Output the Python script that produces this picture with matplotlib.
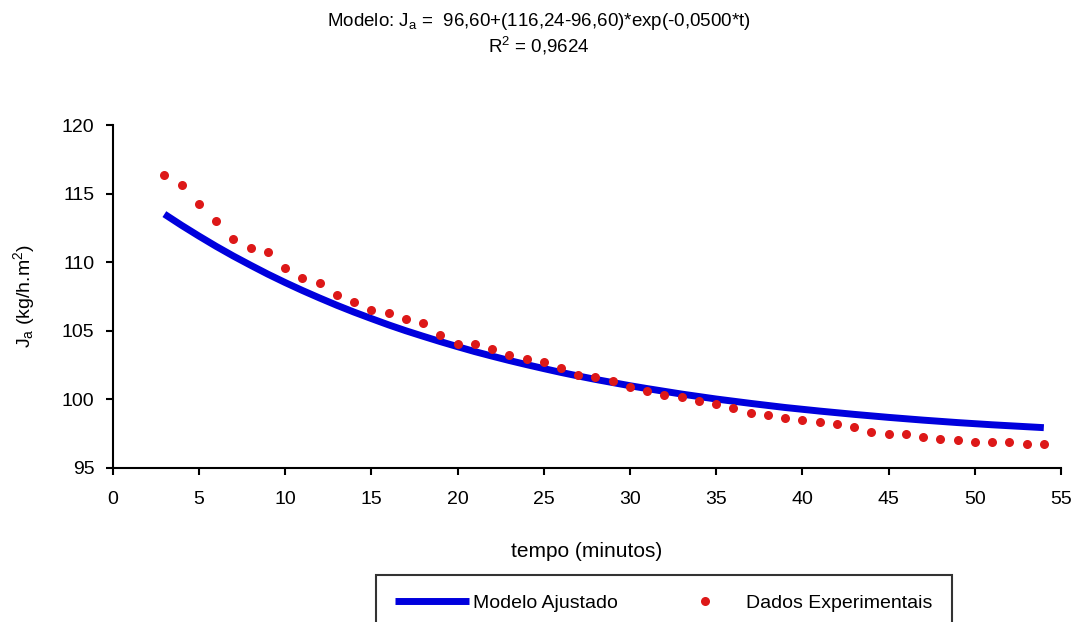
import matplotlib
matplotlib.use("Agg")
import matplotlib.pyplot as plt

plt.rcParams['font.family'] = ['Liberation Sans', 'DejaVu Sans']
plt.rcParams['mathtext.fontset'] = 'custom'
plt.rcParams['mathtext.rm'] = 'Liberation Sans'
plt.rcParams['mathtext.it'] = 'Liberation Sans'

# time (minutes)
tempo = list(range(3, 55))

# experimental data J_a (kg/h.m2)
dados_experimentais = [116.35, 115.66, 114.27, 112.98, 111.69, 111.03, 110.72, 109.57,
                       108.84, 108.45, 107.63, 107.08, 106.48, 106.31, 105.87, 105.56,
                       104.70, 104.02, 104.06, 103.67, 103.21, 102.92, 102.68, 102.29,
                       101.78, 101.60, 101.29, 100.92, 100.61, 100.29, 100.19, 99.87,
                       99.66, 99.34, 98.98, 98.86, 98.64, 98.49, 98.32, 98.20,
                       98.00, 97.63, 97.46, 97.46, 97.27, 97.10, 97.03, 96.88,
                       96.86, 96.88, 96.71, 96.71]

# fitted model values
modelo_ajustado = [113.50, 112.68, 111.90, 111.15, 110.44, 109.77, 109.12, 108.51,
                   107.93, 107.38, 106.85, 106.35, 105.88, 105.42, 104.99, 104.59,
                   104.20, 103.83, 103.47, 103.14, 102.82, 102.52, 102.23, 101.95,
                   101.69, 101.44, 101.21, 100.98, 100.77, 100.57, 100.37, 100.19,
                   100.01, 99.85, 99.69, 99.54, 99.39, 99.26, 99.13, 99.01,
                   98.89, 98.78, 98.67, 98.57, 98.47, 98.38, 98.29, 98.21,
                   98.13, 98.06, 97.99, 97.92]

x_ticks = [0, 5, 10, 15, 20, 25, 30, 35, 40, 45, 50, 55]
y_ticks = [95, 100, 105, 110, 115, 120]

fig = plt.figure(figsize=(10.78, 6.22), dpi=100)
ax = fig.add_axes([0.1045, 0.2481, 0.8798, 0.5509])

ax.plot(tempo, modelo_ajustado, color='#0000DD', lw=5, solid_capstyle='butt',
        label='Modelo Ajustado', zorder=2)
ax.plot(tempo, dados_experimentais, linestyle='none', marker='o', markersize=6.5,
        color='#DD1818', markeredgewidth=0, label='Dados Experimentais', zorder=3)

ax.set_xlim(0, 55)
ax.set_ylim(95, 120)
ax.set_xticks(x_ticks)
ax.set_yticks(y_ticks)
ax.spines['top'].set_visible(False)
ax.spines['right'].set_visible(False)
ax.spines['left'].set_linewidth(1.5)
ax.spines['bottom'].set_linewidth(1.5)
ax.tick_params(axis='both', direction='out', length=5, width=1.5, labelsize=14)
ax.tick_params(axis='x', pad=12)
ax.tick_params(axis='y', pad=8)

ax.set_xlabel('tempo (minutos)', fontsize=15, labelpad=24)
ax.set_ylabel(r'J$_\mathrm{a}$ (kg/h.m$^2$)', fontsize=14, labelpad=18)

fig.text(0.5, 0.966, r'Modelo: J$_\mathrm{a}$ =  96,60+(116,24-96,60)*exp(-0,0500*t)',
         ha='center', va='center', fontsize=13.5)
fig.text(0.5, 0.926, r'R$^2$ = 0,9624', ha='center', va='center', fontsize=13.5)

leg = ax.legend(loc='upper center', bbox_to_anchor=(664 / 1078, 1 - 575 / 622),
                bbox_transform=fig.transFigure, ncol=2, fontsize=14, frameon=True,
                fancybox=False, edgecolor='black', handlelength=3.8, handletextpad=0.2,
                columnspacing=2.6, borderpad=1.0, borderaxespad=0)
leg.get_frame().set_linewidth(1.5)

fig.savefig('out.png', dpi=100)
